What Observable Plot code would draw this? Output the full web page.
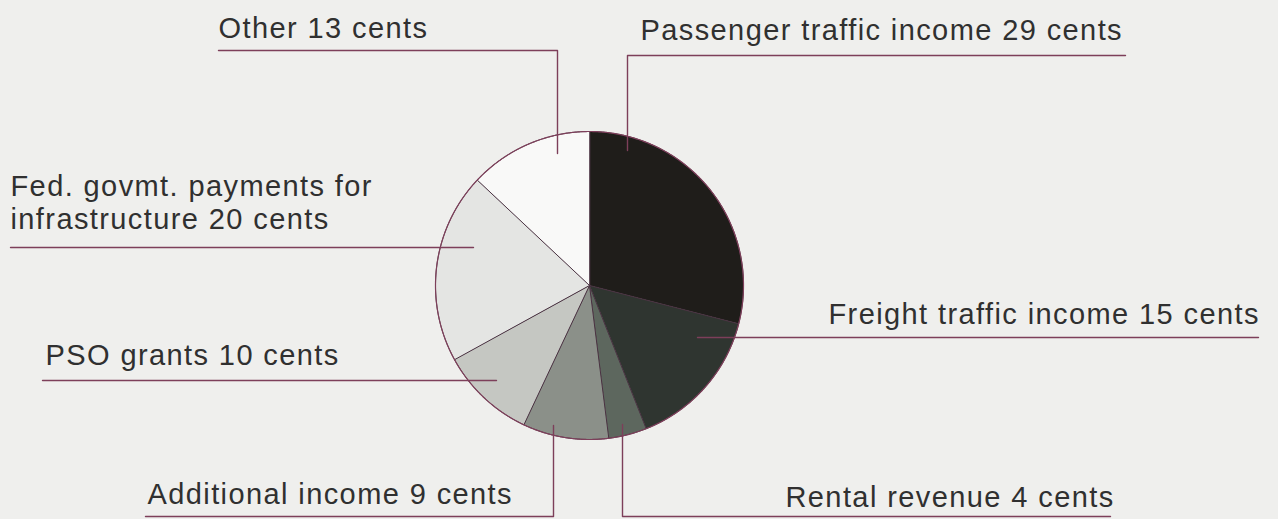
<!DOCTYPE html>
<html>
<head>
<meta charset="utf-8">
<script src="https://cdn.jsdelivr.net/npm/d3@7"></script>
<script src="https://cdn.jsdelivr.net/npm/@observablehq/plot@0.6"></script>
<style>
  html, body { margin: 0; padding: 0; background: #efefed; overflow: hidden; }
</style>
</head>
<body>
<div id="chart"></div>
<script>
// ---- data ----
const categories = [
  "Passenger traffic income",
  "Freight traffic income",
  "Rental revenue",
  "Additional income",
  "PSO grants",
  "Fed. govmt. payments for infrastructure",
  "Other"
];
const cents = [29, 15, 4, 9, 10, 20, 13];
const labelTexts = [
  "Passenger traffic income 29 cents",
  "Freight traffic income 15 cents",
  "Rental revenue 4 cents",
  "Additional income 9 cents",
  "PSO grants 10 cents",
  "Fed. govmt. payments for\ninfrastructure 20 cents",
  "Other 13 cents"
];
const sliceColors = ["#1f1d1a", "#2f3530", "#5d675e", "#8b9089", "#c5c7c2", "#e4e5e3", "#f9f9f8"];

// ---- layout (pixels) ----
const W = 1278, H = 519;
const CX = 589, CY = 285, R = 154;
const labelPos = [
  [640, 39], [828, 323], [785, 506], [147, 503], [45, 364], [10, 228], [218, 37]
];
const leaderPaths = [
  [[1125, 55], [627, 55], [627, 150]],
  [[697, 337], [1258, 337]],
  [[622, 424], [622, 516], [1110, 516]],
  [[145, 516], [553, 516], [553, 425]],
  [[42, 380], [496, 380]],
  [[10, 247], [473, 247]],
  [[218, 50], [557, 50], [557, 153]]
];

// ---- build ----
const rows = categories.map((c, i) => ({cat: c, cents: cents[i], color: sliceColors[i]}));
const arcs = d3.pie().sort(null).value(d => d.cents)(rows);

const wedgePts = [];
arcs.forEach(a => {
  const id = a.data.cat;
  wedgePts.push({id, color: a.data.color, x: CX, y: CY});
  const n = Math.max(2, Math.ceil((a.endAngle - a.startAngle) / 0.005));
  for (let k = 0; k <= n; k++) {
    const t = a.startAngle + (a.endAngle - a.startAngle) * k / n;
    wedgePts.push({id, color: a.data.color, x: CX + R * Math.sin(t), y: CY - R * Math.cos(t)});
  }
});
const rimPts = arcs.flatMap(a => {
  const n = Math.max(2, Math.ceil((a.endAngle - a.startAngle) / 0.005));
  return d3.range(n + 1).map(k => {
    const t = a.startAngle + (a.endAngle - a.startAngle) * k / n;
    return {x: CX + R * Math.sin(t), y: CY - R * Math.cos(t)};
  });
});

const labelRows = labelTexts.map((t, i) => ({text: t, x: labelPos[i][0], y: labelPos[i][1]}));
const leaderPts = leaderPaths.flatMap((p, i) => p.map(([x, y]) => ({id: i, x, y})));

const chart = Plot.plot({
  width: W,
  height: H,
  margin: 0,
  x: {domain: [0, W], range: [0, W], axis: null},
  y: {domain: [0, H], range: [0, H], axis: null},
  color: {type: "identity"},
  style: {background: "#efefed", fontFamily: "'Liberation Sans', Arial, sans-serif"},
  marks: [
    Plot.line(wedgePts, {x: "x", y: "y", z: "id", fill: "color", stroke: "#4a3342", strokeWidth: 1, curve: "linear-closed"}),
    Plot.line(rimPts, {x: "x", y: "y", stroke: "#7d3f5a", strokeWidth: 1.2, curve: "linear-closed"}),
    Plot.line(leaderPts, {x: "x", y: "y", z: "id", stroke: "#7d3f5a", strokeWidth: 1.4}),
    Plot.text(labelRows, {
      x: "x", y: "y", text: "text",
      textAnchor: "start", lineAnchor: "bottom", lineHeight: 1.13,
      fontSize: 29, fill: "#303030"
    })
  ]
});
chart.querySelectorAll("text").forEach(t => t.style.letterSpacing = "1.4px");
document.getElementById("chart").appendChild(chart);
</script>
</body>
</html>
